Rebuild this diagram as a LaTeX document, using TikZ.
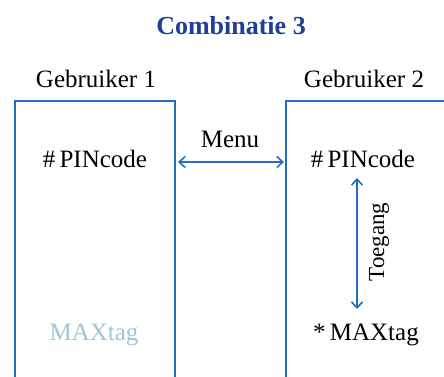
\documentclass[tikz,border=0pt]{standalone}
\usepackage{fontspec}
\setmainfont{Liberation Serif}
\usetikzlibrary{arrows.meta,calc}
\definecolor{boxblue}{RGB}{38,108,190}
\definecolor{titleblue}{RGB}{32,62,150}
\definecolor{fadedtxt}{RGB}{160,196,216}
\begin{document}
\begin{tikzpicture}[x=1pt,y=-1pt,
  lbl/.style={inner sep=0pt,anchor=base,font=\fontsize{25}{30}\selectfont},
  boxframe/.style={draw=boxblue,line width=2pt,rectangle,inner sep=0pt,anchor=north west},
  conn/.style={draw=boxblue,line width=1.6pt,{Straight Barb[length=6pt,width=11pt]}-{Straight Barb[length=6pt,width=11pt]}}]
\useasboundingbox (0,0) rectangle (444,377);
\clip (0,0) rectangle (444,377);
\fill[white] (0,0) rectangle (444,377);
% title
\node[lbl,font=\fontsize{26}{31}\bfseries\selectfont,text=titleblue] (title) at (231,35) {Combinatie 3};
% user headers
\node[lbl] (g1) at (96,88) {Gebruiker 1};
\node[lbl] (g2) at (364,88) {Gebruiker 2};
% boxes
\node[boxframe,minimum width=160pt,minimum height=300pt] (box1) at (14,100) {};
\node[boxframe,minimum width=180pt,minimum height=300pt] (box2) at (285,100) {};
% contents
\node[lbl] (pin1) at (95,167) {\#\,PINcode};
\node[lbl] (pin2) at (363,167) {\#\,PINcode};
\node[lbl] (menu) at (230,147) {Menu};
\node[lbl,text=fadedtxt] (max1) at (94,340) {MAXtag};
\node[lbl] (max2) at (366,340) {*\,MAXtag};
\node[lbl,rotate=90,font=\fontsize{23}{28}\selectfont] (toeg) at (384,242) {Toegang};
% connectors
\coordinate (m1) at (box1.east |- 0,162);
\coordinate (m2) at (box2.west |- 0,162);
\draw[conn,shorten <=2pt,shorten >=1pt] (m1) -- (m2);
\coordinate (t1) at (357,178);
\coordinate (t2) at (357,309);
\draw[conn] (t1) -- (t2);
\end{tikzpicture}
\end{document}
